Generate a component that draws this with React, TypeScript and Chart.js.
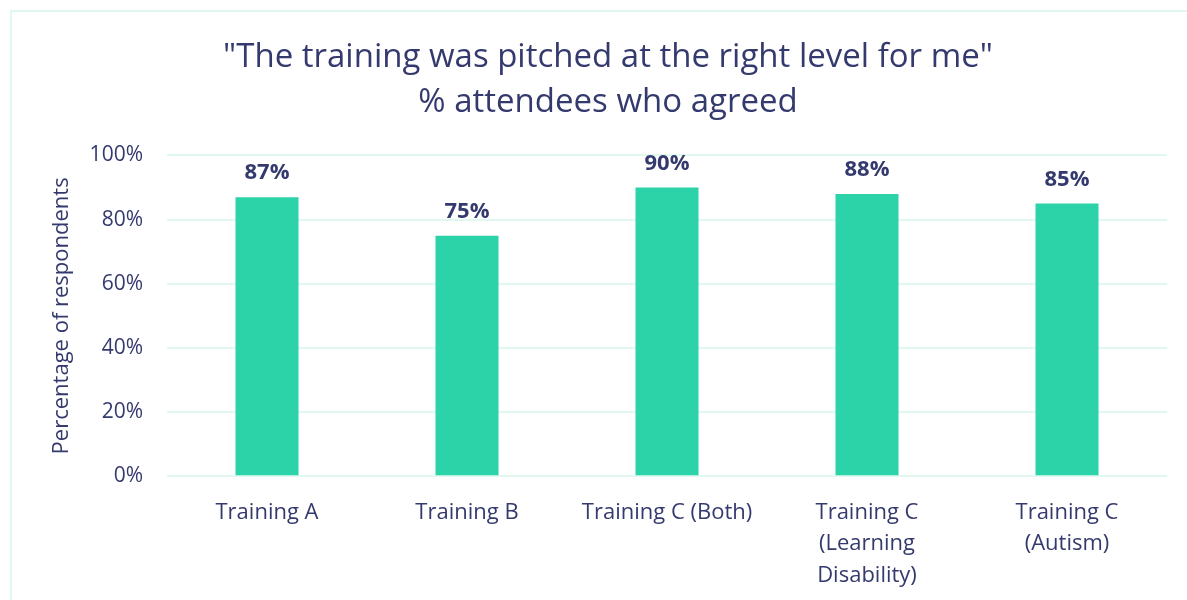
import React, { useEffect, useRef } from "react";
import { Chart, registerables } from "chart.js";

Chart.register(...registerables);

const categories: (string | string[])[] = [
  "Training A",
  "Training B",
  "Training C (Both)",
  ["Training C", "(Learning", "Disability)"],
  ["Training C", "(Autism)"],
];
const agreedPct: number[] = [87, 75, 90, 88, 85];
const yTicks: number[] = [0, 20, 40, 60, 80, 100];
const titleLines: string[] = ['"The training was pitched at the right level for me"', "% attendees who agreed"];
const yAxisTitle = "Percentage of respondents";

const NAVY = "#353A6E";
const TEAL = "#2CD3A9";
const GRID = "#E1F8F1";
const FONT = "'Open Sans', 'Noto Sans', sans-serif";

const labelPlugin = {
  id: "barLabels",
  afterDatasetsDraw(chart: any) {
    const { ctx } = chart;
    const meta = chart.getDatasetMeta(0);
    ctx.save();
    ctx.fillStyle = NAVY;
    ctx.font = `bold 22px ${FONT}`;
    ctx.textAlign = "center";
    ctx.textBaseline = "alphabetic";
    meta.data.forEach((el: any, i: number) => {
      ctx.fillText(agreedPct[i] + "%", el.x, el.y - 18);
    });
    ctx.restore();
  },
};

const framePlugin = {
  id: "frame",
  beforeDraw(chart: any) {
    const { ctx } = chart;
    ctx.save();
    ctx.strokeStyle = GRID;
    ctx.lineWidth = 2;
    ctx.strokeRect(11, 11, 1300, 700);
    ctx.restore();
  },
};

export default function App() {
  const ref = useRef<HTMLCanvasElement | null>(null);
  useEffect(() => {
    if (!ref.current) return;
    const chart = new Chart(ref.current, {
      type: "bar",
      data: {
        labels: categories,
        datasets: [
          {
            data: agreedPct,
            backgroundColor: TEAL,
            barPercentage: 0.315,
            categoryPercentage: 1,
          },
        ],
      },
      options: {
        animation: false,
        responsive: false,
        layout: { padding: { left: 49, right: 20, top: 35, bottom: -4 } },
        plugins: {
          legend: { display: false },
          tooltip: { enabled: false },
          title: {
            display: true,
            text: titleLines,
            color: NAVY,
            font: { family: FONT, size: 33, weight: "normal", lineHeight: 1.37 },
            padding: { top: 0, bottom: 30 },
          },
        },
        scales: {
          x: {
            grid: { display: false },
            border: { display: false },
            ticks: {
              color: NAVY,
              font: { family: FONT, size: 22, lineHeight: 1.45 },
              maxRotation: 0,
              autoSkip: false,
              padding: 12,
            },
          },
          y: {
            min: 0,
            max: 100,
            afterBuildTicks: (axis: any) => {
              axis.ticks = yTicks.map((v) => ({ value: v }));
            },
            afterFit: (axis: any) => {
              axis.width = 118;
            },
            grid: { color: GRID, lineWidth: 2, drawTicks: false },
            border: { display: false },
            ticks: {
              color: NAVY,
              font: { family: FONT, size: 21 },
              padding: 24,
              callback: (v: any) => v + "%",
            },
            title: {
              display: true,
              text: yAxisTitle,
              color: NAVY,
              font: { family: FONT, size: 22 },
              padding: { top: 0, bottom: 12 },
            },
          },
        },
      },
      plugins: [framePlugin, labelPlugin],
    });
    return () => chart.destroy();
  }, []);
  return (
    <div style={{ position: "fixed", left: 0, top: 0, width: 1187, height: 600, background: "#fff" }}>
      <canvas ref={ref} width={1187} height={600} style={{ display: "block" }} />
    </div>
  );
}
